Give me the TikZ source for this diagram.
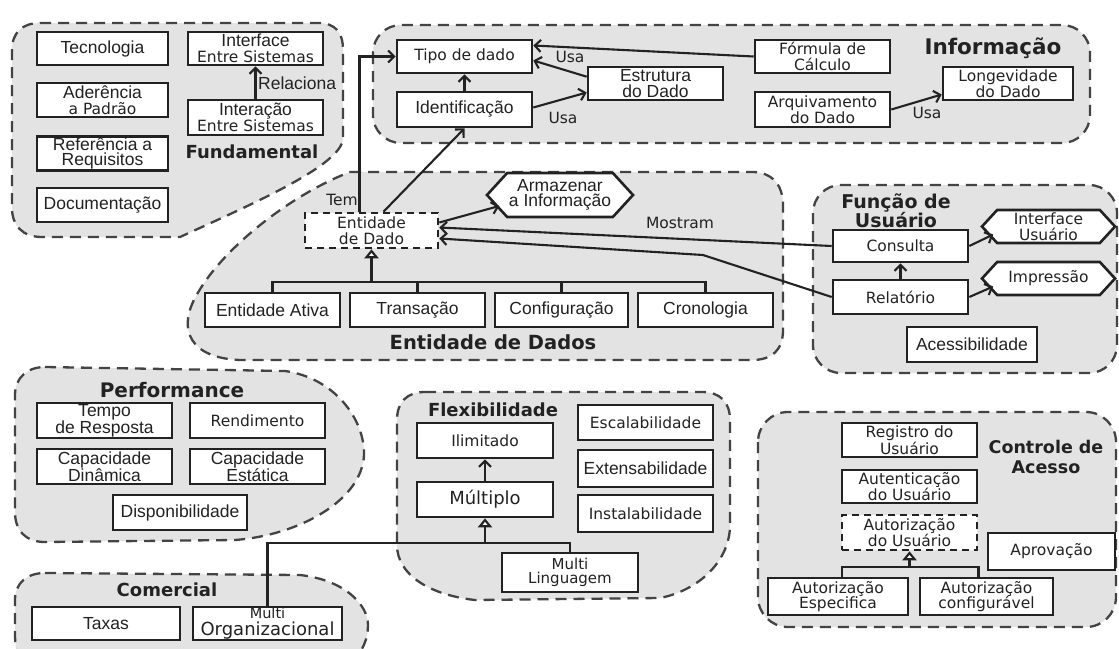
\documentclass[tikz,border=0pt]{standalone}
\usepackage{fontspec}
\setmainfont{Liberation Sans}
\newfontfamily\dv{DejaVu Sans}
\usetikzlibrary{shapes.symbols,arrows.meta,calc}
\newcommand\fA{\fontsize{17.5}{15.5}\selectfont}
\newcommand\fD{\dv\fontsize{15.5}{15.5}\selectfont}
\newcommand\fH{\dv\bfseries\fontsize{19.5}{20}\selectfont}
\definecolor{ink}{HTML}{222222}
\definecolor{grpfill}{HTML}{E3E3E3}
\tikzset{
  grp/.style={fill=grpfill, draw=ink!85, line width=2.3pt, dash pattern=on 11pt off 7pt},
  box/.style={draw=ink, line width=2.6pt, fill=white, minimum width=135pt, minimum height=34pt,
              inner sep=0pt, align=center, text=ink, font=\fA},
  dbox/.style={box, dash pattern=on 7pt off 5pt},
  hexa/.style={box, shape=signal, signal to=west and east, signal pointer angle=95},
  arr/.style={draw=ink, line width=2.1pt, -{Straight Barb[length=6pt,width=12pt]}},
  inh/.style={draw=ink, line width=2.1pt, -{Triangle[open,length=9pt,width=14pt,fill=white]}},
  ln/.style={draw=ink, line width=2.1pt},
  glab/.style={text=ink, font=\fH, align=center, inner sep=0pt},
  elab/.style={text=ink, inner sep=0pt}
}
\begin{document}
\begin{tikzpicture}[x=1pt,y=-1pt]
\clip (0,0) rectangle (1119,648);
\fill[white] (0,0) rectangle (1119,648);

% ---------- groups ----------
\path[grp] (40,23) -- (318,23) .. controls (335,23) and (343,32) .. (343,50) -- (343,138)
  .. controls (343,165) and (250,205) .. (180,237) -- (42,237)
  .. controls (22,237) and (12,225) .. (12,208) -- (12,50)
  .. controls (12,33) and (22,23) .. (40,23) -- cycle;
\path[grp, rounded corners=28pt] (373,25) rectangle (1090,143);
\path[grp] (350,172) -- (752,172) .. controls (772,172) and (783,185) .. (783,205) -- (783,330)
  .. controls (783,350) and (772,360) .. (752,360) -- (240,360)
  .. controls (190,358) and (178,330) .. (195,298)
  .. controls (220,250) and (290,195) .. (350,172) -- cycle;
\path[grp, rounded corners=28pt] (813,185) rectangle (1117,373);
\path[grp] (45,367) -- (285,371) .. controls (335,378) and (365,420) .. (364,455)
  .. controls (362,500) and (300,535) .. (235,540) -- (45,542)
  .. controls (25,542) and (15,530) .. (15,512) -- (15,395)
  .. controls (15,378) and (27,367) .. (45,367) -- cycle;
\path[grp] (425,392) -- (702,392) .. controls (720,392) and (730,402) .. (730,420) -- (730,525)
  .. controls (730,560) and (700,590) .. (660,598) -- (475,600)
  .. controls (430,595) and (397,575) .. (397,545) -- (397,420)
  .. controls (397,402) and (407,392) .. (425,392) -- cycle;
\path[grp] (45,573) -- (300,575) .. controls (345,580) and (368,605) .. (368,625)
  .. controls (368,640) and (362,650) .. (355,660) -- (20,660)
  .. controls (15,650) and (15,640) .. (15,630) -- (15,600)
  .. controls (15,583) and (27,573) .. (45,573) -- cycle;
\path[grp, rounded corners=30pt] (758,412) rectangle (1116,627);

% ---------- Fundamental ----------
\node[box, minimum width=131pt, minimum height=33pt] (tec) at (102.5,48.5) {Tecnologia};
\node[box, minimum width=131pt] (ade) at (102.5,100) {Aderência\\{\fD a Padrão}};
\node[box, minimum width=131pt] (ref) at (102.5,153.5) {Referência a\\Requisitos};
\node[box, minimum width=131pt] (doc) at (102.5,205) {Documentação};
\node[box, minimum height=33pt] (intf) at (255.5,48.5) {Interface\\{\fD Entre Sistemas}};
\node[box, minimum height=35pt] (inter) at (255.5,117.5) {Interação\\{\fD Entre Sistemas}};
\node[glab, font=\dv\bfseries\fontsize{18}{20}\selectfont] (lfund) at (252,152) {Fundamental};
\node[elab, font=\fA, anchor=west] (lrel) at (258,83) {Relaciona};

% ---------- Informacao ----------
\node[box, font=\fD, minimum height=33pt] (tipo) at (464.5,56.5) {Tipo de dado};
\node[box, minimum height=35pt] (ident) at (464.5,109.5) {Identificação};
\node[box, minimum height=33pt] (estr) at (655.5,83.5) {Estrutura\\do Dado};
\node[box, font=\fD, minimum height=33pt] (form) at (822.5,56.5) {Fórmula de\\Cálculo};
\node[box, font=\fD, minimum height=35pt] (arq) at (822.5,109.5) {Arquivamento\\do Dado};
\node[box, font=\fD, minimum width=130pt, minimum height=33pt] (long) at (1008,83.5) {Longevidade\\do Dado};
\node[glab, font=\dv\bfseries\fontsize{21.5}{21}\selectfont] (linfo) at (993,48) {Informação};
\node[elab, font=\fD] (lusa1) at (570,57) {Usa};
\node[elab, font=\fD] (lusa2) at (563,118) {Usa};
\node[elab, font=\fD] (lusa3) at (927,113) {Usa};

% ---------- Entidade de Dados ----------
\node[dbox, font=\fD, minimum width=133pt, minimum height=35pt] (ent) at (371.5,230.5) {Entidade\\de Dado};
\node[hexa, minimum width=146pt, minimum height=44pt] (arm) at (560,195) {Armazenar\\a Informação};
\node[box] (ea) at (272.5,310) {Entidade Ativa};
\node[box] (tr) at (417.5,310) {Transação};
\node[box, minimum width=133pt] (cf) at (561.5,310) {Configuração};
\node[box] (cr) at (705.5,310) {Cronologia};
\node[glab] (lent) at (493,342) {Entidade de Dados};
\node[elab, font=\fD] (ltem) at (342,200) {Tem};
\node[elab, font=\fD] (lmos) at (680,223) {Mostram};

% ---------- Funcao de Usuario ----------
\node[box, font=\fD, minimum height=32pt] (cons) at (900.5,246) {Consulta};
\node[box, font=\fD] (rel) at (900.5,297) {Relatório};
\node[box, minimum width=130pt, minimum height=35pt] (acc) at (972,344.5) {Acessibilidade};
\node[hexa, font=\fD, minimum width=133pt, minimum height=33pt] (iu) at (1048.5,226.5) {Interface\\Usuário};
\node[hexa, font=\fD, minimum width=133pt, minimum height=33pt] (imp) at (1048.5,278.5) {Impressão};
\node[glab, font=\dv\bfseries\fontsize{19}{19}\selectfont] (lfun) at (896,211) {Função de\\Usuário};

% ---------- Performance ----------
\node[box, minimum height=35pt] (tempo) at (104.5,420.5) {Tempo\\de Resposta};
\node[box, font=\fD, minimum height=35pt] (rend) at (257.5,420.5) {Rendimento};
\node[box, minimum height=35pt] (cdin) at (104.5,466.5) {Capacidade\\Dinâmica};
\node[box, minimum height=35pt] (cest) at (257.5,466.5) {Capacidade\\Estática};
\node[box, minimum width=134pt, minimum height=35pt] (disp) at (180,512.5) {Disponibilidade};
\node[glab, font=\dv\bfseries\fontsize{20}{20}\selectfont] (lperf) at (172,390) {Performance};

% ---------- Flexibilidade ----------
\node[box, font=\fD, minimum width=136pt, minimum height=35pt] (ilim) at (485,440.5) {Ilimitado};
\node[box, font=\dv\fontsize{18}{17}\selectfont, minimum width=136pt, minimum height=35pt] (mult) at (485,499.5) {Múltiplo};
\node[box, font=\fD, minimum height=35pt] (esc) at (645.5,422.5) {Escalabilidade};
\node[box, minimum height=37pt] (ext) at (645.5,468.5) {Extensabilidade};
\node[box, font=\fD, minimum height=37pt] (inst) at (645.5,513.5) {Instalabilidade};
\node[box, font=\dv\fontsize{15}{15}\selectfont, minimum width=136pt, minimum height=39pt] (mling) at (570,572.5) {\shortstack{Multi\\Linguagem}};
\node[glab, font=\dv\bfseries\fontsize{18}{20}\selectfont] (lflex) at (493,410) {Flexibilidade};

% ---------- Comercial ----------
\node[box, minimum width=148pt, minimum height=33pt] (tax) at (106,623.5) {Taxas};
\node[box, font=\dv, minimum width=149pt, minimum height=33pt] (morg) at (267.5,623.5)
  {\shortstack{{\fontsize{14.5}{14}\selectfont Multi}\\{\fontsize{18}{18}\selectfont Organizacional}}};
\node[glab, font=\dv\bfseries\fontsize{18}{20}\selectfont] (lcom) at (167,590) {Comercial};

% ---------- Controle de Acesso ----------
\node[box, font=\fD] (reg) at (909.5,440) {Registro do\\Usuário};
\node[box, font=\fD, minimum height=33pt] (aut) at (909.5,486.5) {Autenticação\\do Usuário};
\node[dbox, font=\fD, minimum height=35pt] (autu) at (909.5,532.5) {Autorização\\do Usuário};
\node[box, font=\fD, minimum width=127pt, minimum height=37pt] (apr) at (1051.5,551.5) {Aprovação};
\node[box, font=\fD, minimum width=140pt, minimum height=37pt] (aes) at (838,596.5) {Autorização\\Especifica};
\node[box, font=\fD, minimum width=133pt, minimum height=37pt] (acf) at (986.5,596.5) {Autorização\\configurável};
\node[glab, font=\dv\bfseries\fontsize{17.5}{20}\selectfont] (lctl) at (1046,457) {Controle de\\Acesso};

% ---------- connectors ----------
\draw[arr] (inter.north) -- (intf.south);
\draw[arr] (ident.north) -- (tipo.south);
\draw[arr] ([yshift=-11pt]estr.north west) -- ([yshift=-4pt]tipo.east);
\draw[arr] (form.west) -- ([yshift=11pt]tipo.east);
\draw[arr] ([yshift=2pt]ident.east) -- ([yshift=-9pt]estr.west);
\draw[arr] (arq.east) -- ([yshift=-11pt]long.west);
\draw[arr] ([xshift=-12pt]ent.north) |- (tipo.west);
\draw[arr] ([xshift=12pt]ent.north) -- (ident.south);
\draw[arr] ([yshift=8pt]ent.east) -- ([xshift=14pt,yshift=-11pt]arm.west);
\draw[arr] (cons.west) -- ([yshift=3pt]ent.east);
\coordinate (bend) at (703,255);
\draw[arr] (rel.west) -- (bend) -- ([yshift=-8pt]ent.east);
\draw[arr] (rel.north) -- (cons.south);
\draw[arr] (cons.east) -- ([xshift=13pt,yshift=-8pt]iu.west);
\draw[arr] (rel.east) -- ([xshift=13pt,yshift=-8pt]imp.west);
\draw[arr] (mult.north) -- (ilim.south);

% inheritance: Entidade de Dados
\coordinate (ej) at (371.5,283);
\draw[ln] (ea.north) -- ++(0,-10) -| (cr.north);
\draw[ln] (tr.north) -- ++(0,-10);
\draw[ln] (cf.north) -- ++(0,-10);
\draw[inh] (ej) -- (ent.south);

% inheritance: Flexibilidade
\coordinate (fj) at (485,543);
\draw[ln] (morg.north) |- (fj);
\draw[ln] (mling.north) |- (fj);
\draw[inh] (fj) -- (mult.south);

% inheritance: Controle de Acesso
\coordinate (cj) at (909.5,568);
\draw[ln] ([xshift=4pt]aes.north) -- ++(0,-10) -| ([xshift=-8pt]acf.north);
\draw[inh] (cj) -- (autu.south);
\end{tikzpicture}
\end{document}
